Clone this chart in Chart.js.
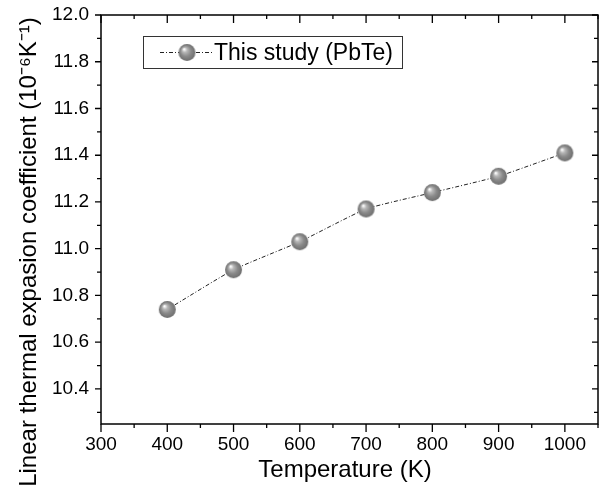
<!DOCTYPE html>
<html>
<head>
<meta charset="utf-8">
<script src="https://cdn.jsdelivr.net/npm/chart.js@4"></script>
<style>
  html, body { margin: 0; padding: 0; background: #fff; }
  #wrap { width: 607px; height: 497px; position: relative; }
</style>
</head>
<body>
<div id="wrap"><canvas id="c" width="607" height="497"></canvas></div>
<script>
// ---- data ----
const temperatures = [400, 500, 600, 700, 800, 900, 1000];
const expansion = [10.74, 10.91, 11.03, 11.17, 11.24, 11.31, 11.41];
const seriesLabel = 'This study (PbTe)';
const xTicks = [300, 400, 500, 600, 700, 800, 900, 1000];
const yTicks = [10.4, 10.6, 10.8, 11.0, 11.2, 11.4, 11.6, 11.8, 12.0];
const xMinorTicks = [350, 450, 550, 650, 750, 850, 950, 1050];
const yMinorTicks = [10.3, 10.5, 10.7, 10.9, 11.1, 11.3, 11.5, 11.7, 11.9];
const xTitle = 'Temperature (K)';
const yTitle = 'Linear thermal expasion coefficient (10\u207B\u2076K\u207B\u00B9)';

const FONT = "'Liberation Sans', Arial, sans-serif";

// sphere marker
function makeSphere(r) {
  const s = 2 * r + 2;
  const cv = document.createElement('canvas');
  cv.width = s; cv.height = s;
  const g = cv.getContext('2d');
  const cx = s / 2, cy = s / 2;
  const grad = g.createRadialGradient(cx - r * 0.35, cy - r * 0.4, r * 0.05, cx, cy, r);
  grad.addColorStop(0, '#ffffff');
  grad.addColorStop(0.25, '#b8b8b8');
  grad.addColorStop(0.6, '#8a8a8a');
  grad.addColorStop(1, '#6e6e6e');
  g.fillStyle = grad;
  g.beginPath(); g.arc(cx, cy, r, 0, Math.PI * 2); g.fill();
  return cv;
}
const sphere = makeSphere(8.5);

const frame = {
  id: 'frame',
  afterDraw(chart) {
    const {ctx, chartArea: a, scales: {x, y}} = chart;
    ctx.save();
    ctx.strokeStyle = '#000';
    ctx.lineWidth = 1.5;
    ctx.strokeRect(a.left, a.top, a.right - a.left, a.bottom - a.top);
    ctx.lineWidth = 1.3;
    ctx.beginPath();
    const vt = (v, len) => {
      const px = x.getPixelForValue(v);
      ctx.moveTo(px, a.bottom); ctx.lineTo(px, a.bottom + len);
      ctx.moveTo(px, a.top); ctx.lineTo(px, a.top + len);
    };
    xTicks.forEach(v => vt(v, 8));
    xMinorTicks.forEach(v => vt(v, 4));
    const ht = (v, len) => {
      const py = y.getPixelForValue(v);
      ctx.moveTo(a.left, py); ctx.lineTo(a.left - len, py);
      ctx.moveTo(a.right, py); ctx.lineTo(a.right - len, py);
    };
    yTicks.forEach(v => ht(v, 6));
    yMinorTicks.forEach(v => ht(v, 4));
    ctx.stroke();

    // axis titles
    ctx.fillStyle = '#000';
    ctx.font = '24px ' + FONT;
    ctx.textAlign = 'center';
    ctx.textBaseline = 'middle';
    ctx.fillText(xTitle, 345, 470);
    ctx.save();
    ctx.translate(29, 252);
    ctx.rotate(-Math.PI / 2);
    ctx.fillText(yTitle, 0, 0);
    ctx.restore();

    // legend
    const bx = 143, by = 36, bw = 259, bh = 32;
    ctx.lineWidth = 1;
    ctx.strokeStyle = '#333';
    ctx.strokeRect(bx + 0.5, by + 0.5, bw, bh);
    const ly = by + bh / 2 + 0.5;
    ctx.save();
    ctx.setLineDash([4, 2, 1, 2]);
    ctx.strokeStyle = '#222';
    ctx.beginPath(); ctx.moveTo(160, ly); ctx.lineTo(213, ly); ctx.stroke();
    ctx.restore();
    ctx.drawImage(sphere, 187 - sphere.width / 2, ly - sphere.height / 2);
    ctx.fillStyle = '#000';
    ctx.font = '23px ' + FONT;
    ctx.textAlign = 'left';
    ctx.textBaseline = 'middle';
    ctx.fillText(seriesLabel, 214, ly + 1);
    ctx.restore();
  }
};

new Chart(document.getElementById('c'), {
  type: 'scatter',
  data: {
    datasets: [{
      label: seriesLabel,
      data: temperatures.map((t, i) => ({x: t, y: expansion[i]})),
      showLine: true,
      borderColor: '#222',
      borderWidth: 1,
      borderDash: [4, 2, 1, 2],
      tension: 0.15,
      pointStyle: sphere,
      pointRadius: 8,
      pointHoverRadius: 8
    }]
  },
  options: {
    responsive: false,
    animation: false,
    events: [],
    layout: { padding: { left: 0, right: 8, top: 15, bottom: 0 } },
    plugins: { legend: { display: false }, tooltip: { enabled: false } },
    scales: {
      x: {
        type: 'linear',
        min: 300, max: 1050,
        grid: { display: false, drawTicks: false },
        border: { display: false },
        afterBuildTicks: s => { s.ticks = xTicks.map(v => ({value: v})); },
        afterFit: s => { s.height = 73; s.paddingLeft = 0; s.paddingRight = 0; },
        ticks: { color: '#000', font: { family: FONT, size: 19 }, padding: 9, maxRotation: 0, autoSkip: false, callback: v => String(v) },
        title: { display: false }
      },
      y: {
        type: 'linear',
        min: 10.25, max: 12.0,
        grid: { display: false, drawTicks: false },
        border: { display: false },
        afterBuildTicks: s => { s.ticks = yTicks.map(v => ({value: v})); },
        afterFit: s => { s.width = 101; s.paddingTop = 0; s.paddingBottom = 0; },
        ticks: { color: '#000', font: { family: FONT, size: 19 }, padding: 12, autoSkip: false, callback: v => v.toFixed(1) },
        title: { display: false }
      }
    }
  },
  plugins: [frame]
});
</script>
</body>
</html>
